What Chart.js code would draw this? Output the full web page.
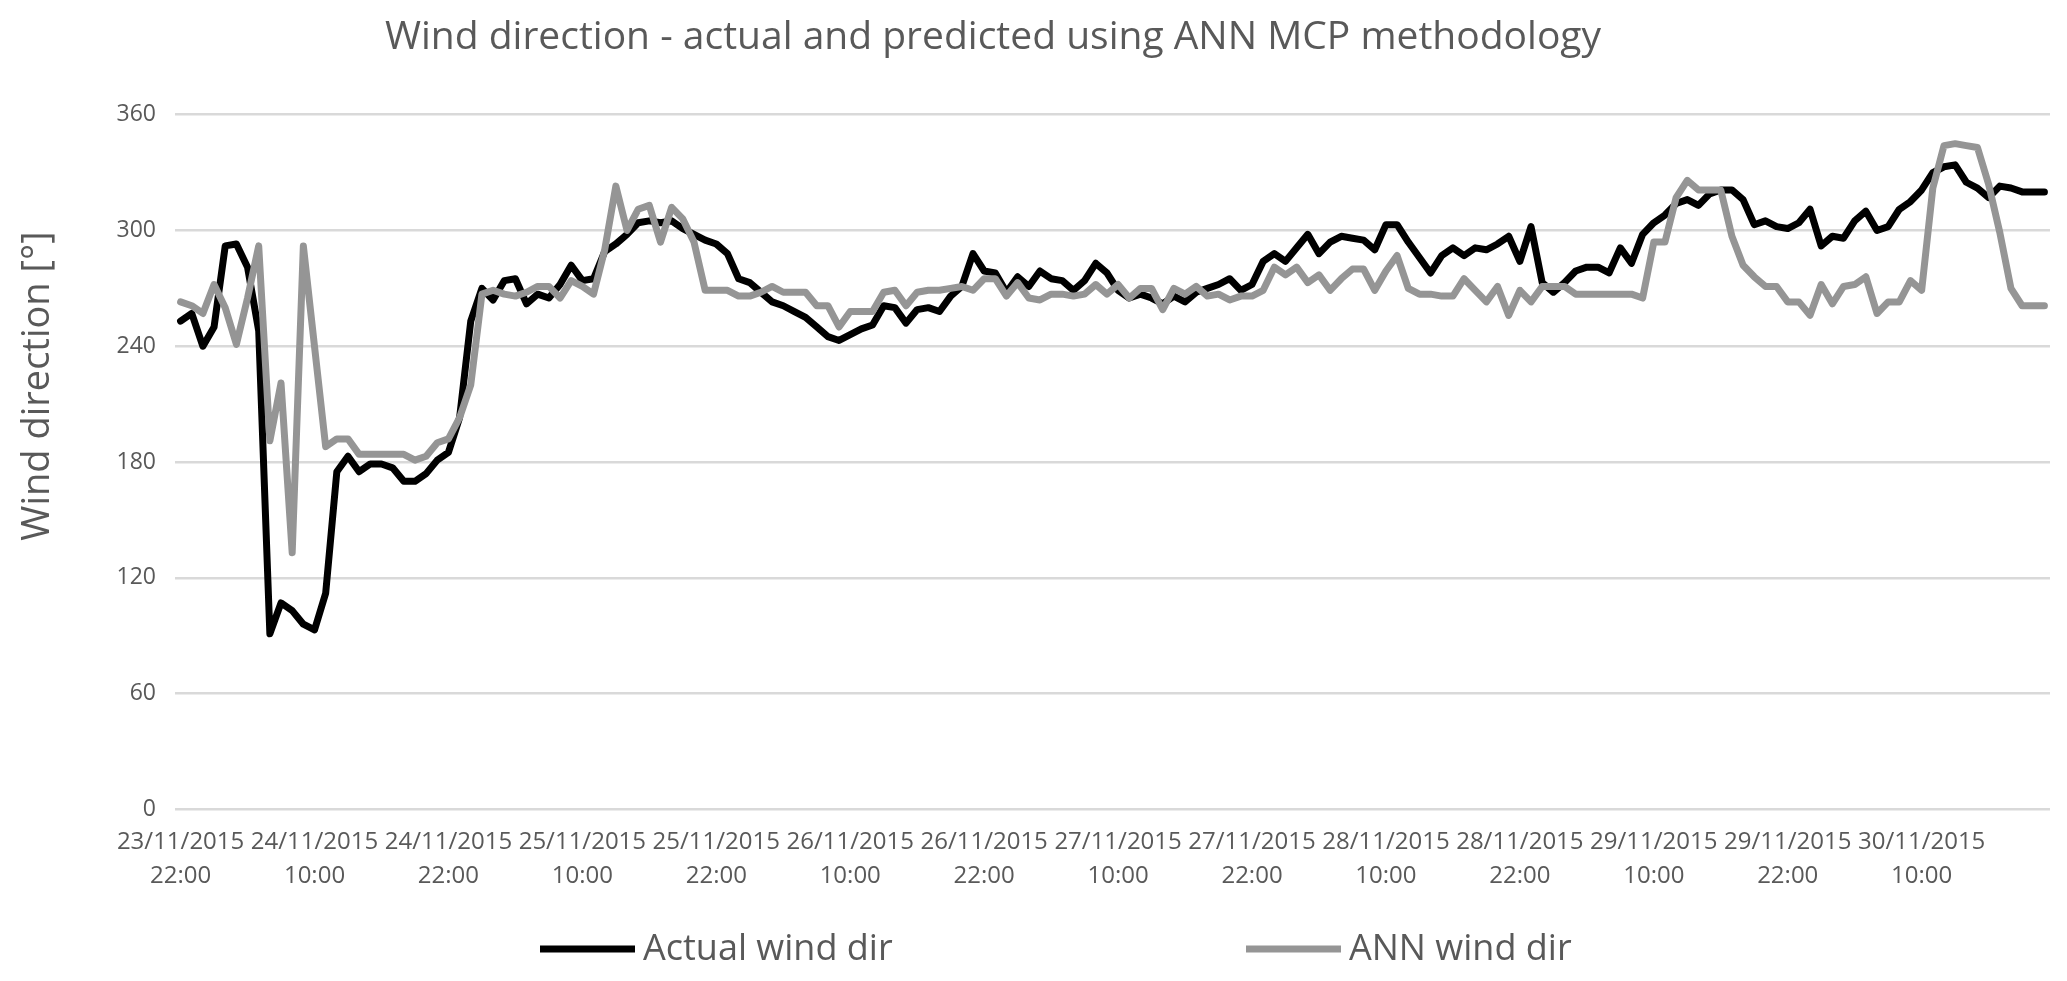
<!DOCTYPE html>
<html>
<head>
<meta charset="utf-8">
<script src="https://cdn.jsdelivr.net/npm/chart.js@4.4.1/dist/chart.umd.min.js"></script>
<style>
  body { margin: 0; background: #ffffff; }
  #wrap { width: 2067px; height: 981px; }
</style>
</head>
<body>
<div id="wrap"><canvas id="chart" width="2067" height="981"></canvas></div>
<script>
// Wind direction, hourly, 23/11/2015 22:00 .. 30/11/2015 21:00
const chartTitle = 'Wind direction - actual and predicted using ANN MCP methodology';
const yTitle = 'Wind direction [°]';
const seriesNames = ['Actual wind dir', 'ANN wind dir'];
const startTime = new Date(2015, 10, 23, 22, 0);
const hourCount = 168;

const actualDir = [
  253, 257, 240, 250, 292, 293, 281, 248, 91, 107, 103, 96,
  93, 112, 175, 183, 175, 179, 179, 177, 170, 170, 174, 181,
  185, 203, 253, 270, 264, 274, 275, 262, 267, 265, 272, 282,
  274, 275, 289, 293, 298, 304, 305, 304, 305, 301, 298, 295,
  293, 288, 275, 273, 268, 263, 261, 258, 255, 250, 245, 243,
  246, 249, 251, 261, 260, 252, 259, 260, 258, 266, 271, 288,
  279, 278, 268, 276, 271, 279, 275, 274, 269, 274, 283, 278,
  269, 265, 267, 265, 262, 266, 263, 268, 270, 272, 275, 269,
  272, 284, 288, 284, 291, 298, 288, 294, 297, 296, 295, 290,
  303, 303, 294, 286, 278, 287, 291, 287, 291, 290, 293, 297,
  284, 302, 273, 268, 273, 279, 281, 281, 278, 291, 283, 298,
  304, 308, 314, 316, 313, 319, 321, 321, 316, 303, 305, 302,
  301, 304, 311, 292, 297, 296, 305, 310, 300, 302, 311, 315,
  321, 330, 333, 334, 325, 322, 317, 323, 322, 320, 320, 320
];

const annDir = [
  263, 261, 257, 272, 260, 241, 265, 292, 191, 221, 133, 292,
  240, 188, 192, 192, 184, 184, 184, 184, 184, 181, 183, 190,
  192, 203, 220, 267, 269, 267, 266, 268, 271, 271, 265, 274,
  271, 267, 290, 323, 300, 311, 313, 294, 312, 306, 294, 269,
  269, 269, 266, 266, 268, 271, 268, 268, 268, 261, 261, 250,
  258, 258, 258, 268, 269, 261, 268, 269, 269, 270, 271, 269,
  275, 275, 266, 273, 265, 264, 267, 267, 266, 267, 272, 267,
  272, 265, 270, 270, 259, 270, 267, 271, 266, 267, 264, 266,
  266, 269, 281, 277, 281, 273, 277, 269, 275, 280, 280, 269,
  279, 287, 270, 267, 267, 266, 266, 275, 269, 263, 271, 256,
  269, 263, 271, 271, 271, 267, 267, 267, 267, 267, 267, 265,
  294, 294, 317, 326, 321, 321, 321, 297, 282, 276, 271, 271,
  263, 263, 256, 272, 262, 271, 272, 276, 257, 263, 263, 274,
  269, 322, 344, 345, 344, 343, 324, 299, 270, 261, 261, 261
];

// shown every 12 hours
const tickLabels = [
  ['23/11/2015', '22:00'], ['24/11/2015', '10:00'], ['24/11/2015', '22:00'],
  ['25/11/2015', '10:00'], ['25/11/2015', '22:00'], ['26/11/2015', '10:00'],
  ['26/11/2015', '22:00'], ['27/11/2015', '10:00'], ['27/11/2015', '22:00'],
  ['28/11/2015', '10:00'], ['28/11/2015', '22:00'], ['29/11/2015', '10:00'],
  ['29/11/2015', '22:00'], ['30/11/2015', '10:00']
];
const tickEvery = 12;

const pad = n => String(n).padStart(2, '0');
const categories = [];
for (let h = 0; h < hourCount; h++) {
  const d = new Date(startTime.getTime() + h * 3600000);
  categories.push(pad(d.getDate()) + '/' + pad(d.getMonth() + 1) + '/' + d.getFullYear() + ' ' + pad(d.getHours()) + ':00');
}

const textColor = '#595959';
const fontFamily = "'Open Sans', sans-serif";

// title, y title and legend, drawn on the canvas
const extraText = {
  id: 'extraText',
  afterDraw(chart) {
    const ctx = chart.ctx;
    ctx.save();
    ctx.fillStyle = textColor;
    ctx.textAlign = 'center';
    ctx.textBaseline = 'middle';
    ctx.font = '39px ' + fontFamily;
    ctx.fillText(chartTitle, 993, 38);
    ctx.font = '38px ' + fontFamily;
    ctx.translate(38, 386);
    ctx.rotate(-Math.PI / 2);
    ctx.fillText(yTitle, 0, 0);
    ctx.restore();

    const starts = [540, 1246];
    const legendY = 949;
    ctx.save();
    ctx.font = '36px ' + fontFamily;
    ctx.textAlign = 'left';
    ctx.textBaseline = 'middle';
    chart.data.datasets.forEach((ds, i) => {
      const x0 = starts[i];
      ctx.strokeStyle = ds.borderColor;
      ctx.lineWidth = 7;
      ctx.lineCap = 'butt';
      ctx.beginPath();
      ctx.moveTo(x0, legendY);
      ctx.lineTo(x0 + 95, legendY);
      ctx.stroke();
      ctx.fillStyle = textColor;
      ctx.fillText(ds.label, x0 + 103, legendY + 1);
    });
    ctx.restore();
  }
};

const ctx = document.getElementById('chart').getContext('2d');
new Chart(ctx, {
  type: 'line',
  data: {
    labels: categories,
    datasets: [
      {
        label: seriesNames[0],
        data: actualDir,
        borderColor: '#000000',
        backgroundColor: '#000000',
        borderWidth: 7,
        pointRadius: 0,
        tension: 0,
        borderJoinStyle: 'round',
        borderCapStyle: 'round',
        order: 1
      },
      {
        label: seriesNames[1],
        data: annDir,
        borderColor: '#959595',
        backgroundColor: '#959595',
        borderWidth: 7,
        pointRadius: 0,
        tension: 0,
        borderJoinStyle: 'round',
        borderCapStyle: 'round',
        order: 0
      }
    ]
  },
  options: {
    responsive: false,
    devicePixelRatio: 1,
    animation: false,
    layout: {
      padding: { left: 0, right: 17, top: 114.7, bottom: 66 }
    },
    plugins: {
      legend: { display: false },
      tooltip: { enabled: false },
      title: { display: false }
    },
    scales: {
      x: {
        type: 'category',
        offset: true,
        grid: { display: false, drawTicks: false },
        border: { display: false },
        ticks: {
          autoSkip: false,
          maxRotation: 0,
          minRotation: 0,
          padding: 15,
          color: textColor,
          font: { family: fontFamily, size: 24, lineHeight: 1.45 },
          callback: (value, index) => index % tickEvery === 0 ? tickLabels[index / tickEvery] : ''
        },
        afterFit: scale => { scale.height = 105.6; }
      },
      y: {
        min: 0,
        max: 360,
        grid: { color: '#d9d9d9', lineWidth: 2.5, drawTicks: false },
        border: { display: false },
        ticks: {
          stepSize: 60,
          padding: 19,
          color: textColor,
          font: { family: fontFamily, size: 23 }
        },
        afterFit: scale => { scale.width = 175; }
      }
    }
  },
  plugins: [extraText]
});
</script>
</body>
</html>
